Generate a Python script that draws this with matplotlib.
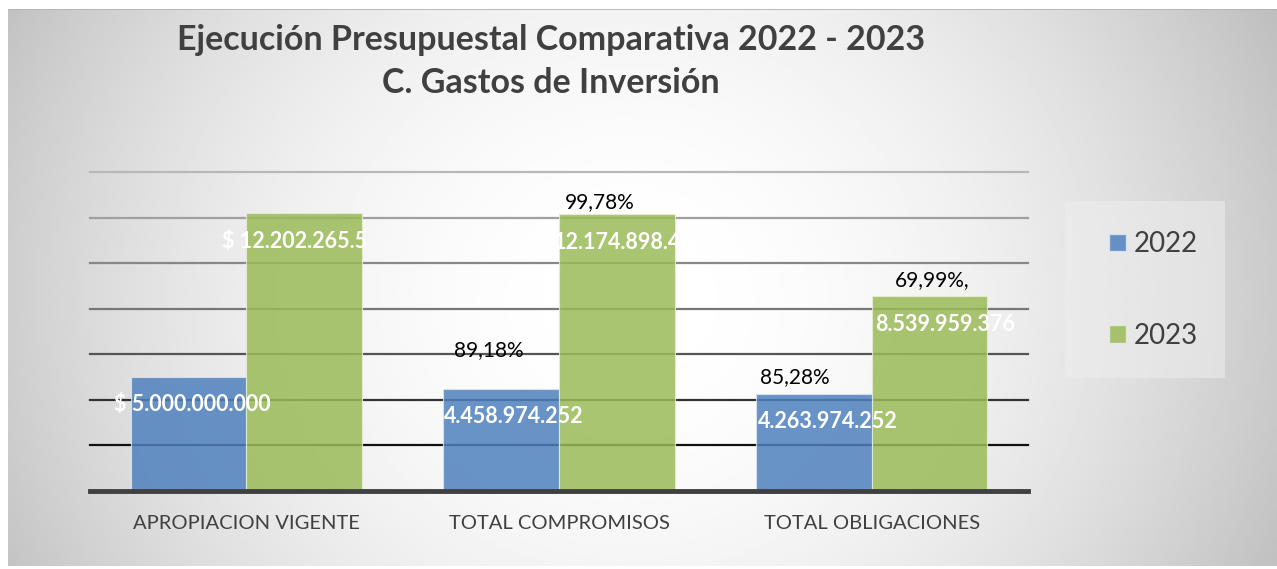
import numpy as np
import matplotlib
matplotlib.use("Agg")
import matplotlib.pyplot as plt
from matplotlib.patches import Patch, Rectangle

# Data
categories = ["APROPIACION VIGENTE", "TOTAL COMPROMISOS", "TOTAL OBLIGACIONES"]
years = ["2022", "2023"]
values_2022 = [5000000000, 4458974252, 4263974252]
values_2023 = [12202265500, 12174898400, 8539959376]
labels_2022 = ["$ 5.000.000.000", "4.458.974.252", "4.263.974.252"]
labels_2023 = ["$ 12.202.265.5", "12.174.898.4", "8.539.959.376"]
pct_2022 = ["", "89,18%", "85,28%"]
pct_2023 = ["", "99,78%", "69,99%,"]

W, H = 1277, 569
BLUE = "#4F81BD"
GREEN = "#9BBB59"
TXT = "#404040"
FONT = "Lato"

fig = plt.figure(figsize=(W / 100, H / 100), dpi=100)
fig.patch.set_facecolor("white")

# radial grey-to-white gradient behind the whole chart area
bg = fig.add_axes([8 / W, 3 / H, (W - 8) / W, (H - 12) / H])
xs = np.linspace(8, W, 400)
ys = np.linspace(9, H - 3, 200)
gx, gy = np.meshgrid(xs, ys)
r2 = ((gx - 630) / 700) ** 2 + ((gy - 300) / 650) ** 2
shade = 1 - 0.24 * np.clip(r2, 0, 1.3)
bg.imshow(shade, cmap="gray", vmin=0, vmax=1, aspect="auto",
          extent=[0, 1, 0, 1], interpolation="bilinear")
bg.axhline(1, color="#b0b0b0", lw=1.2)
bg.set_axis_off()

ax = fig.add_axes([90 / W, 1 - 491 / H, (1028 - 90) / W, (491 - 172) / H])
ax.patch.set_alpha(0)

x = np.arange(len(categories))
w = 0.37
ax.set_xlim(-0.5, len(categories) - 0.5)
ax.set_ylim(0, 14e9)

# gridlines, darker towards the bottom
grid_vals = np.arange(2e9, 14.1e9, 2e9)
grid_cols = ["#111111", "#333333", "#555555", "#777777", "#888888", "#a0a0a0", "#b8b8b8"]
for gv, gc in zip(grid_vals, grid_cols):
    ax.axhline(gv, color=gc, lw=1.6, zorder=1, clip_on=False)

ax.bar(x - w / 2, values_2022, w, color=BLUE, alpha=0.85,
       edgecolor="#dce6f2", linewidth=0.8, zorder=2, label=years[0])
ax.bar(x + w / 2, values_2023, w, color=GREEN, alpha=0.85,
       edgecolor="#e6eed5", linewidth=0.8, zorder=2, label=years[1])

ax.axhline(0, color="#404040", lw=3.5, zorder=3, clip_on=False)

for s in ax.spines.values():
    s.set_visible(False)
ax.set_yticks([])
ax.set_xticks(x)
ax.set_xticklabels(categories, fontsize=14.5, color=TXT, family=FONT)
ax.tick_params(axis="x", length=0, pad=17)

# value labels (white, bold, inside bars)
off_2022 = [(3, 0), (9, 0), (10, 0)]
off_2023 = [(-7, 0), (0, 0), (11, 0)]
for i in range(len(categories)):
    ax.annotate(labels_2022[i], (x[i] - w / 2, values_2022[i] - 1.2e9),
                xytext=off_2022[i], textcoords="offset points",
                ha="center", va="center", color="white", fontsize=15.5,
                fontweight="bold", family=FONT, zorder=4)
    ax.annotate(labels_2023[i], (x[i] + w / 2, values_2023[i] - 1.25e9),
                xytext=off_2023[i], textcoords="offset points",
                ha="center", va="center", color="white", fontsize=15.5,
                fontweight="bold", family=FONT, zorder=4)

# percentage labels above bars
pct_off_2022 = [(0, 0), (-9, 28), (-14, 12)]
pct_off_2023 = [(0, 0), (-12, 8), (2, 12)]
for i in range(len(categories)):
    if pct_2022[i]:
        ax.annotate(pct_2022[i], (x[i] - w / 2, values_2022[i]),
                    xytext=pct_off_2022[i], textcoords="offset points",
                    ha="center", va="center", color="black", fontsize=15,
                    family=FONT, zorder=4)
    if pct_2023[i]:
        ax.annotate(pct_2023[i], (x[i] + w / 2, values_2023[i]),
                    xytext=pct_off_2023[i], textcoords="offset points",
                    ha="center", va="center", color="black", fontsize=15,
                    family=FONT, zorder=4)

fig.text(551 / W, 1 - 40 / H, "Ejecución Presupuestal Comparativa 2022 - 2023",
         ha="center", va="center", fontsize=24.5, fontweight="bold", color=TXT, family=FONT)
fig.text(551 / W, 1 - 83 / H, "C. Gastos de Inversión",
         ha="center", va="center", fontsize=24.5, fontweight="bold", color=TXT, family=FONT)

# legend box drawn separately so its size can match the reference
fig.patches.append(Rectangle((1065 / W, 1 - 378 / H), 160 / W, 177 / H,
                             transform=fig.transFigure, facecolor="#eeeeee",
                             alpha=0.55, edgecolor="none", zorder=0))
handles = [Patch(facecolor=BLUE, alpha=0.85, edgecolor="#dce6f2", label=years[0]),
           Patch(facecolor=GREEN, alpha=0.85, edgecolor="#e6eed5", label=years[1])]
fig.legend(handles=handles, loc="center left",
           bbox_to_anchor=(1109 / W, 1 - 290 / H),
           prop={"family": FONT, "size": 20}, labelcolor=TXT,
           frameon=False, labelspacing=2.35,
           handlelength=0.6, handleheight=0.6, handletextpad=0.3,
           borderpad=0, borderaxespad=0)

fig.savefig("out.png", dpi=100)
